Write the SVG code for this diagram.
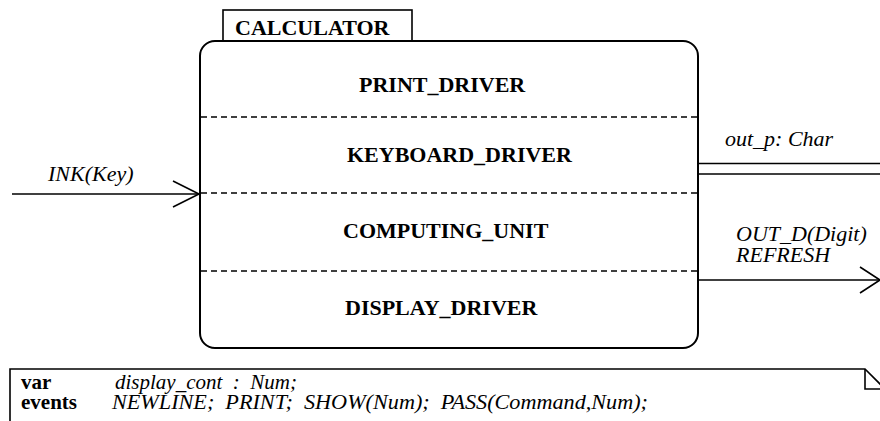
<svg xmlns="http://www.w3.org/2000/svg" width="880" height="421" viewBox="0 0 880 421">
<style>
text{font-family:"Liberation Serif","Times New Roman",serif;fill:#000;}
.b{font-weight:bold;font-size:22px;}
.i{font-style:italic;font-size:22px;}
.n{font-size:21px;white-space:pre;}
.ln{stroke:#000;stroke-width:1.6;fill:none;}
.dash{stroke:#000;stroke-width:1.5;stroke-dasharray:6,4;fill:none;}
</style>
<rect width="880" height="421" fill="#fff"/>
<g id="calculator">
<rect x="223" y="10" width="189" height="31" fill="#fff" stroke="#000" stroke-width="1.6"/>
<text class="b" x="235" y="35">CALCULATOR</text>
<rect x="200" y="41" width="498" height="307" rx="15" ry="15" fill="#fff" stroke="#000" stroke-width="2"/>
<line class="dash" x1="201" y1="117" x2="697" y2="117"/>
<line class="dash" x1="201" y1="193" x2="697" y2="193"/>
<line class="dash" x1="201" y1="271" x2="697" y2="271"/>
</g>
<g id="print_driver"><text class="b" x="359" y="92">PRINT_DRIVER</text></g>
<g id="keyboard_driver"><text class="b" x="347" y="162">KEYBOARD_DRIVER</text></g>
<g id="computing_unit"><text class="b" x="343" y="238">COMPUTING_UNIT</text></g>
<g id="display_driver"><text class="b" x="345" y="315">DISPLAY_DRIVER</text></g>
<g id="connectors">
<line class="ln" x1="12" y1="194" x2="200" y2="194"/>
<polyline class="ln" points="173,181 199,194 173,207"/>
<text class="i" x="48" y="181">INK(Key)</text>
<line class="ln" x1="698" y1="163.5" x2="880" y2="163.5"/>
<line class="ln" x1="698" y1="174" x2="880" y2="174"/>
<text class="i" x="725" y="146">out_p: Char</text>
<line class="ln" x1="698" y1="280" x2="880" y2="280"/>
<polyline class="ln" points="860,267 880,280 860,293"/>
<text class="i" x="736" y="241">OUT_D(Digit)</text>
<text class="i" x="736" y="262">REFRESH</text>
</g>
<g id="note">
<path class="ln" d="M10,421 L10,369 L865,369 L885,389"/>
<path class="ln" d="M865,369 L865,389 L885,389"/>
<text class="n" x="21" y="389" font-weight="bold">var</text>
<text class="n" x="115" y="389" font-style="italic">display_cont  :  Num;</text>
<text class="n" x="21" y="409" font-weight="bold">events</text>
<text class="n" x="112" y="409" font-style="italic" textLength="536" lengthAdjust="spacingAndGlyphs">NEWLINE;  PRINT;  SHOW(Num);  PASS(Command,Num);</text>
</g>
</svg>
